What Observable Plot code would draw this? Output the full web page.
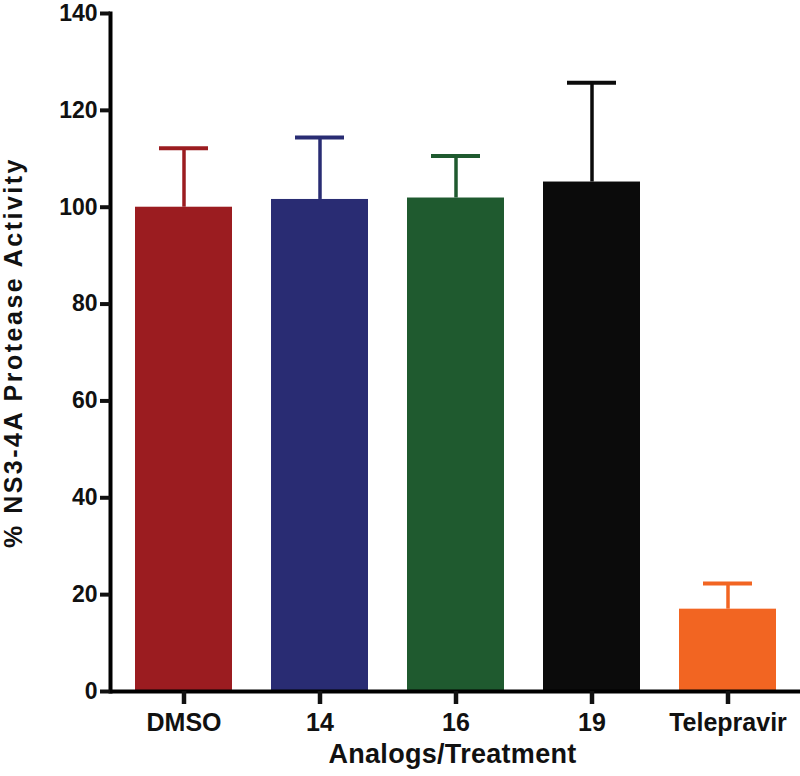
<!DOCTYPE html>
<html>
<head>
<meta charset="utf-8">
<script src="https://cdn.jsdelivr.net/npm/d3@7"></script>
<script src="https://cdn.jsdelivr.net/npm/@observablehq/plot@0.6"></script>
<style>
  html, body { margin: 0; padding: 0; background: #fff; }
  text[aria-label="y-title"] { letter-spacing: 2.5px; }
  text[aria-label="x-title"] { letter-spacing: 0.3px; }
</style>
</head>
<body>
<div id="chart"></div>
<script>
const categories = ["DMSO", "14", "16", "19", "Telepravir"];
const means = [100, 101.6, 101.9, 105.2, 17.0];
const upper = [112.2, 114.4, 110.6, 125.7, 22.3];
const colors = ["#9b1c20", "#292c73", "#1f5a2f", "#0b0b0b", "#f26522"];
const yTicks = [0, 20, 40, 60, 80, 100, 120, 140];
const xTitle = "Analogs/Treatment";
const yTitle = "% NS3-4A Protease Activity";

const data = categories.map((c, i) => ({cat: c, mean: means[i], up: upper[i], color: colors[i]}));

const chart = Plot.plot({
  width: 800,
  height: 776,
  marginLeft: 110,
  marginRight: 0,
  marginTop: 13,
  marginBottom: 85,
  style: {fontFamily: "'Liberation Sans', Arial, sans-serif", fontWeight: "bold", color: "#111", background: "#fff", overflow: "visible"},
  x: {domain: categories, paddingInner: 0.29, paddingOuter: 0.17},
  y: {domain: [0, 140]},
  marks: [
    Plot.barY(data, {x: "cat", y: "mean", fill: "color"}),
    Plot.ruleX(data, {x: "cat", y1: "mean", y2: "up", stroke: "color", strokeWidth: 3.5}),
    Plot.tickY(data, {x: "cat", y: "up", stroke: "color", strokeWidth: 4, insetLeft: 24, insetRight: 24}),
    Plot.ruleY([0], {stroke: "#000", strokeWidth: 4}),
    Plot.frame({anchor: "left", stroke: "#000", strokeWidth: 4}),
    Plot.axisY({ticks: yTicks, tickSize: 10, tickPadding: 3, strokeWidth: 4, fontSize: 23, fontWeight: "bold", label: null, tickFormat: d => String(d)}),
    Plot.axisX({tickSize: 13, tickPadding: 9, strokeWidth: 4.5, fontSize: 25, fontWeight: "bold", label: null}),
    Plot.text([xTitle], {frameAnchor: "bottom", dy: 71, dx: -3, fontSize: 27, fontWeight: "bold", fill: "#111", ariaLabel: () => "x-title"}),
    Plot.text([yTitle], {frameAnchor: "left", textAnchor: "middle", rotate: -90, dx: -97, fontSize: 25, fontWeight: "bold", fill: "#111", ariaLabel: () => "y-title"})
  ]
});
document.getElementById("chart").appendChild(chart);
</script>
</body>
</html>
